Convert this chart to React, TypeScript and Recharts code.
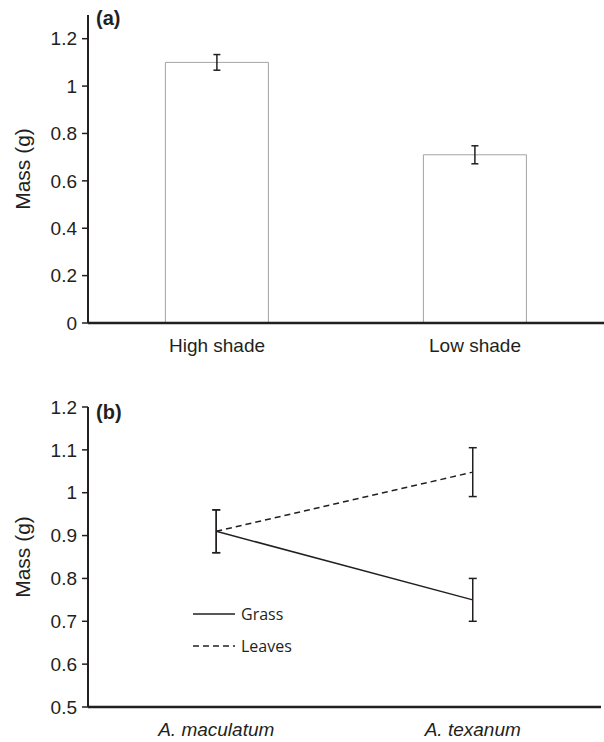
import React from 'react';
import {
  BarChart, Bar, LineChart, Line, XAxis, YAxis, ErrorBar, Legend,
} from 'recharts';

// ---- Panel (a) data ----
const shadeCategories = ['High shade', 'Low shade'];
const shadeMass = [1.1, 0.71];
const shadeErr = [0.033, 0.038];
const yTicksA = [0, 0.2, 0.4, 0.6, 0.8, 1, 1.2];

// ---- Panel (b) data ----
const speciesCategories = ['A. maculatum', 'A. texanum'];
const grassMass = [0.91, 0.75];
const grassErr = [0.05, 0.05];
const leavesMass = [0.91, 1.048];
const leavesErr = [0.05, 0.057];
const yTicksB = [0.5, 0.6, 0.7, 0.8, 0.9, 1, 1.1, 1.2];

const INK = '#231f20';
const FONT = '"Liberation Sans", Arial, sans-serif';

const dataA = shadeCategories.map((name, i) => ({ name, mass: shadeMass[i], err: shadeErr[i] }));
const dataB = speciesCategories.map((name, i) => ({
  idx: i + 0.5,
  name,
  grass: grassMass[i],
  grassErr: grassErr[i],
  leaves: leavesMass[i],
  leavesErr: leavesErr[i],
}));

const yLabel = (props: any) => {
  const vb = props.viewBox || {};
  const cx = (vb.x || 0) + 22;
  const cy = (vb.y || 0) + (vb.height || 0) / 2;
  return (
    <text
      x={cx}
      y={cy}
      transform={`rotate(-90 ${cx} ${cy})`}
      textAnchor="middle"
      dominantBaseline="central"
      fill={INK}
      fontFamily={FONT}
      fontSize={21}
    >
      Mass (g)
    </text>
  );
};

const tickStyle = { fill: INK, fontFamily: FONT, fontSize: 19 };

const legendDash: Record<string, string | undefined> = { Grass: undefined, Leaves: '6 4' };

const LegendContent = (props: any) => {
  const { payload } = props;
  return (
    <div style={{ fontFamily: '"Open Sans", sans-serif', fontSize: 16, color: INK }}>
      {(payload || []).map((p: any) => (
        <div key={p.value} style={{ display: 'flex', alignItems: 'center', height: 32 }}>
          <svg width={48} height={10} style={{ display: 'block' }}>
            <line
              x1={0}
              y1={5}
              x2={42}
              y2={5}
              stroke={INK}
              strokeWidth={1.5}
              strokeDasharray={legendDash[p.value]}
            />
          </svg>
          <span>{p.value}</span>
        </div>
      ))}
    </div>
  );
};

export default function App() {
  return (
    <div style={{ position: 'absolute', left: 0, top: 0, width: 604, height: 742, background: '#fff' }}>
      <div style={{ position: 'absolute', left: 0, top: 0 }}>
        <BarChart
          width={604}
          height={360}
          data={dataA}
          margin={{ top: 15, right: 0, bottom: 7, left: 0 }}
          barCategoryGap="30%"
        >
          <XAxis
            xAxisId="edges"
            type="number"
            domain={[0, 2]}
            ticks={[0, 1, 2]}
            allowDataOverflow
            height={0}
            tick={false}
            tickSize={6}
            tickLine={{ stroke: INK, strokeWidth: 1.5 }}
            axisLine={false}
          />
          <XAxis
            dataKey="name"
            height={30}
            tickLine={false}
            tickSize={0}
            tickMargin={16}
            tick={tickStyle}
            axisLine={{ stroke: INK, strokeWidth: 2.5 }}
          />
          <YAxis
            width={88}
            domain={[0, 1.3]}
            ticks={yTicksA}
            tick={tickStyle}
            tickSize={6}
            tickMargin={5}
            tickLine={{ stroke: INK, strokeWidth: 1.5 }}
            axisLine={{ stroke: INK, strokeWidth: 2 }}
            label={yLabel}
          />
          <Bar dataKey="mass" fill="#ffffff" stroke="#a3a3a3" strokeWidth={1} isAnimationActive={false}>
            <ErrorBar dataKey="err" width={3.5} stroke={INK} strokeWidth={1.5} direction="y" />
          </Bar>
        </BarChart>
      </div>
      <div
        style={{ position: 'absolute', left: 96, top: 7, fontFamily: FONT, fontWeight: 'bold', fontSize: 20, color: INK }}
      >
        (a)
      </div>

      <div style={{ position: 'absolute', left: 0, top: 380 }}>
        <LineChart
          width={604}
          height={362}
          data={dataB}
          margin={{ top: 27, right: 3, bottom: 5, left: 0 }}
        >
          <XAxis
            xAxisId="edges"
            type="number"
            domain={[0, 2]}
            ticks={[0, 1, 2]}
            allowDataOverflow
            height={0}
            tick={false}
            tickSize={6}
            tickLine={{ stroke: INK, strokeWidth: 1.5 }}
            axisLine={false}
          />
          <XAxis
            dataKey="idx"
            type="number"
            domain={[0, 2]}
            ticks={[0.5, 1.5]}
            tickFormatter={(v: number) => speciesCategories[Math.floor(v)]}
            height={30}
            tickLine={false}
            tickSize={0}
            tickMargin={16}
            tick={{ ...tickStyle, fontStyle: 'italic' }}
            axisLine={{ stroke: INK, strokeWidth: 2.5 }}
          />
          <YAxis
            width={88}
            domain={[0.5, 1.2]}
            ticks={yTicksB}
            tick={tickStyle}
            tickSize={6}
            tickMargin={5}
            tickLine={{ stroke: INK, strokeWidth: 1.5 }}
            axisLine={{ stroke: INK, strokeWidth: 2 }}
            label={yLabel}
          />
          <Legend
            layout="vertical"
            align="center"
            verticalAlign="middle"
            content={<LegendContent />}
            wrapperStyle={{ position: 'absolute', left: 193, top: 218, width: 120 }}
          />
          <Line
            dataKey="grass"
            name="Grass"
            stroke={INK}
            strokeWidth={1.5}
            dot={false}
            isAnimationActive={false}
          >
            <ErrorBar dataKey="grassErr" width={4} stroke={INK} strokeWidth={1.5} direction="y" />
          </Line>
          <Line
            dataKey="leaves"
            name="Leaves"
            stroke={INK}
            strokeWidth={1.5}
            strokeDasharray="6 4"
            dot={false}
            isAnimationActive={false}
          >
            <ErrorBar dataKey="leavesErr" width={4} stroke={INK} strokeWidth={1.5} direction="y" />
          </Line>
        </LineChart>
      </div>
      <div
        style={{ position: 'absolute', left: 96, top: 401, fontFamily: FONT, fontWeight: 'bold', fontSize: 20, color: INK }}
      >
        (b)
      </div>
    </div>
  );
}
